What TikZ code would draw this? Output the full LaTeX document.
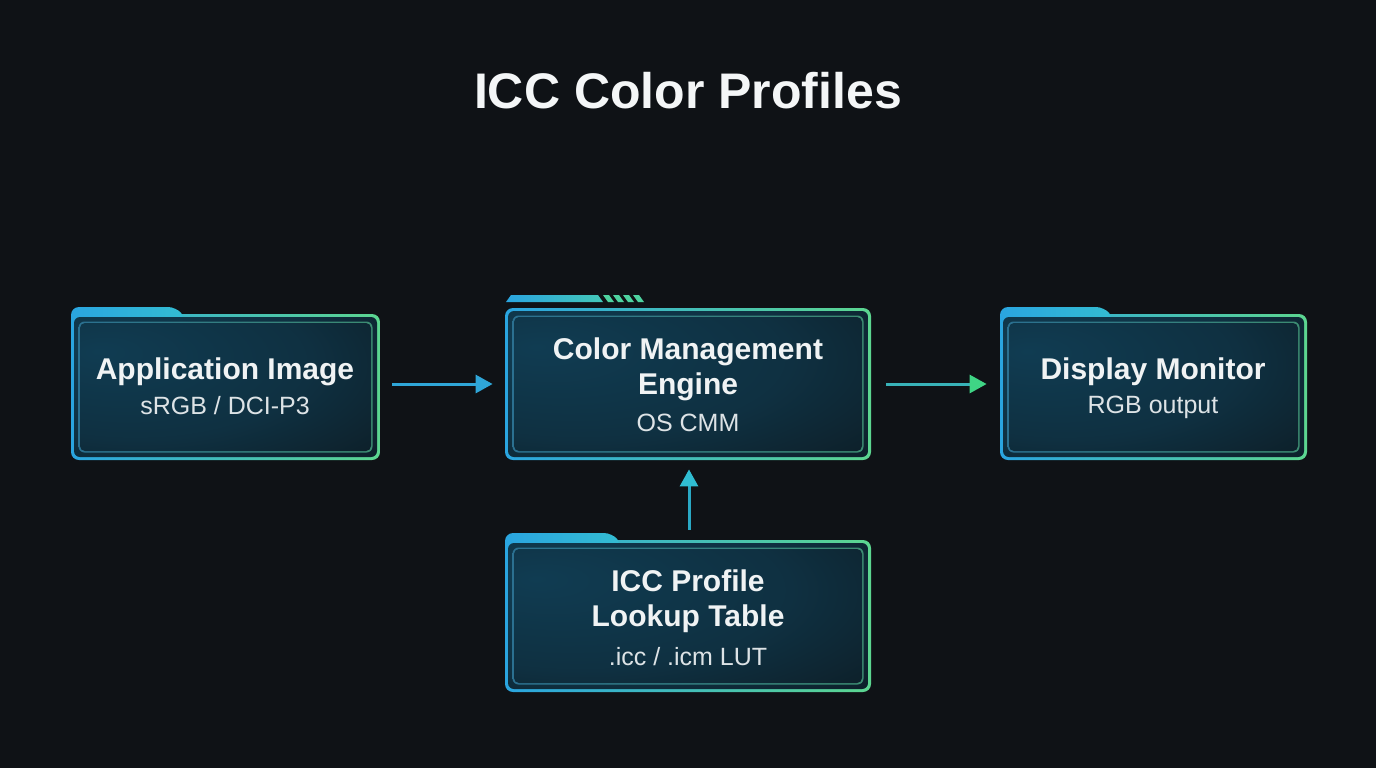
\documentclass[tikz,border=0pt]{standalone}
\usepackage{fontspec}
\setmainfont{Liberation Sans}
\usetikzlibrary{arrows.meta,fit}
\definecolor{bg}{HTML}{0F1216}
\definecolor{cblue}{HTML}{2AA5E0}
\definecolor{cgreen}{HTML}{5CD690}
\definecolor{tabR}{HTML}{33BCD2}
\definecolor{fillA}{HTML}{103C52}
\definecolor{fillB}{HTML}{0C151A}
\definecolor{ringA}{HTML}{2B7090}
\definecolor{ringB}{HTML}{3C8C72}
\definecolor{titleC}{HTML}{F4F6F7}
\definecolor{headC}{HTML}{F0F3F4}
\definecolor{subC}{HTML}{DDE3E6}
\definecolor{arrA}{HTML}{2FA6D8}
\definecolor{arrB}{HTML}{38B2B8}
\definecolor{arrBtip}{HTML}{3FD585}
\definecolor{arrC}{HTML}{2AA8C4}
\definecolor{arrCtip}{HTML}{30BDD2}
\definecolor{stripeC}{HTML}{4ED3A0}
\pgfdeclareradialshading{glow}{\pgfpoint{-22bp}{14bp}}{color(0bp)=(fillA); color(30bp)=(fillA!70!fillB); color(62bp)=(fillB); color(100bp)=(fillB)}
% frame: x1 y1 x2 y2
\newcommand\panelframe[4]{%
  \shade[left color=cblue,right color=cgreen,rounded corners=4pt] (#1,#2) rectangle (#3,#4);
}
\newcommand\panelinside[4]{%
  \shade[shading=glow,rounded corners=3pt] (#1+3,#2+3) rectangle (#3-3,#4-3);
  \shade[left color=ringA,right color=ringB,rounded corners=3pt] (#1+7.5,#2+7.5) rectangle (#3-7.5,#4-7.5);
  \shade[shading=glow,rounded corners=2.5pt] (#1+9,#2+9) rectangle (#3-9,#4-9);
}
% tab: x1 y1 tabtop tabend
\newcommand\paneltab[4]{%
  \shade[left color=cblue,right color=tabR] (#1,#2+10) [rounded corners=4pt] -- (#1,#3) -- (#4,#3) [rounded corners=1.5pt] -- (#4+7,#2+1) [sharp corners] -- (#4+7,#2+10) -- cycle;
}
\begin{document}
\begin{tikzpicture}[x=0.5pt,y=-0.5pt,
  ttl/.style={font=\fontsize{25}{30}\selectfont\bfseries, text=titleC, anchor=base, inner sep=0},
  hd/.style={font=\fontsize{15}{18}\selectfont\bfseries, text=headC, anchor=base, inner sep=0},
  sub/.style={font=\fontsize{12.5}{15}\selectfont, text=subC, anchor=base, inner sep=0},
  boxarea/.style={inner sep=0, draw=none},
  conn/.style={line width=1.5pt},
]
\fill[bg] (0,0) rectangle (1376,768);
\useasboundingbox (0,0) rectangle (1376,768);

\node[ttl] (title) at (688,108) {ICC Color Profiles};

% Box A
\panelframe{71}{314}{380}{460}
\paneltab{71}{314}{307}{176}
\panelinside{71}{314}{380}{460}
\node[boxarea, fit={(71,314) (380,460)}] (app) {};
\node[hd] (appT) at (225,379) {Application Image};
\node[sub] (appS) at (225,414) {sRGB / DCI-P3};

% Box B (engine)
\shade[left color=cblue,right color=tabR!60!cgreen] (506,302) -- (511,295) -- (598,295) -- (603,302) -- cycle;
\foreach \s in {603,613,623,633}{
  \fill[stripeC] (\s,295) -- (\s+6,295) -- (\s+11,302) -- (\s+5,302) -- cycle;
}
\panelframe{505}{308}{871}{460}
\panelinside{505}{308}{871}{460}
\node[boxarea, fit={(505,308) (871,460)}] (cme) {};
\node[hd] (cmeT1) at (688,359) {Color Management};
\node[hd] (cmeT2) at (688,394) {Engine};
\node[sub] (cmeS) at (688,431) {OS CMM};

% Box C (ICC)
\panelframe{505}{540}{871}{692}
\paneltab{505}{540}{533}{612}
\panelinside{505}{540}{871}{692}
\node[boxarea, fit={(505,540) (871,692)}] (icc) {};
\node[hd] (iccT1) at (688,591) {ICC Profile};
\node[hd] (iccT2) at (688,626) {Lookup Table};
\node[sub] (iccS) at (688,665) {.icc / .icm LUT};

% Box D (display)
\panelframe{1000}{314}{1307}{460}
\paneltab{1000}{314}{307}{1104}
\panelinside{1000}{314}{1307}{460}
\node[boxarea, fit={(1000,314) (1307,460)}] (disp) {};
\node[hd] (dispT) at (1153,379) {Display Monitor};
\node[sub] (dispS) at (1153,413) {RGB output};

% connectors
\draw[conn, draw=arrA, -{Triangle[length=8.5pt,width=9pt,color=arrA]}]
  ([xshift=6pt,yshift=1.5pt]app.east) -- ([xshift=-6pt]cme.west);
\draw[conn, draw=arrB, -{Triangle[length=8.5pt,width=9pt,color=arrBtip]}]
  ([xshift=7.5pt]cme.east) -- ([xshift=-6.5pt,yshift=1.5pt]disp.west);
\draw[conn, draw=arrC, -{Triangle[length=8.5pt,width=9pt,color=arrCtip]}]
  ([xshift=0.5pt,yshift=5pt]icc.north) -- ([xshift=0.5pt,yshift=-4.5pt]cme.south);
\end{tikzpicture}
\end{document}
